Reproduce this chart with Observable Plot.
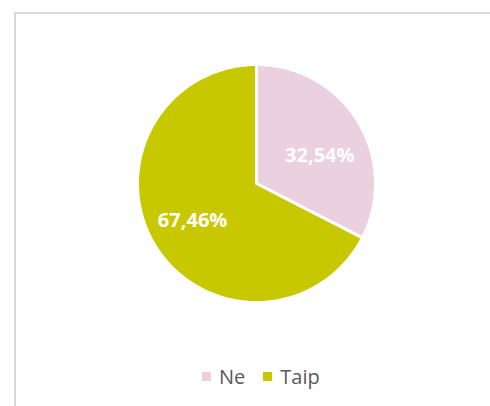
<!DOCTYPE html>
<html>
<head>
<meta charset="utf-8">
<script src="https://cdn.jsdelivr.net/npm/d3@7"></script>
<script src="https://cdn.jsdelivr.net/npm/@observablehq/plot@0.6"></script>
<style>
  body { margin: 0; background: #fff; }
  #wrap { position: relative; width: 490px; height: 406px; overflow: hidden; font-family: "Open Sans", sans-serif; }
  #frame { position: absolute; left: 14px; top: 12px; width: 500px; height: 420px; border-left: 2px solid #d9d9d9; border-top: 2px solid #d9d9d9; }
  #chart { position: absolute; left: 0; top: 0; }
  #legend { position: absolute; left: 202px; top: 363px; display: flex; gap: 18px; font-size: 20px; line-height: 27px; color: #595959; }
  #legend span.item { display: flex; align-items: center; gap: 8px; }
  #legend span.sw { display: inline-block; width: 9px; height: 9px; }
</style>
</head>
<body>
<div id="wrap">
  <div id="frame"></div>
  <div id="chart"></div>
  <div id="legend"></div>
</div>
<script>
const categories = ["Ne", "Taip"];
const values = [32.54, 67.46];
const labels = ["32,54%", "67,46%"];
const colors = ["#ebd0e0", "#c8c800"];

// layout
const cx = 256, cy = 183, R = 119;
const labelDist = [0.6, 0.6];
const labelShift = [[0.02, -0.08], [-0.025, 0.005]];

const pie = d3.pie().sort(null).value(d => d.value);
const data = categories.map((c, i) => ({category: c, value: values[i], label: labels[i]}));
const arcs = pie(data);

// points along each slice boundary in unit coordinates (angle 0 at top, clockwise)
const pts = [];
arcs.forEach(a => {
  const n = 120;
  pts.push({category: a.data.category, x: 0, y: 0});
  for (let k = 0; k <= n; k++) {
    const t = a.startAngle + (a.endAngle - a.startAngle) * k / n;
    pts.push({category: a.data.category, x: Math.sin(t), y: Math.cos(t)});
  }
  pts.push({category: a.data.category, x: 0, y: 0});
});
const labelPts = arcs.map((a, i) => {
  const m = (a.startAngle + a.endAngle) / 2;
  return {label: a.data.label, x: labelDist[i] * Math.sin(m) + labelShift[i][0], y: labelDist[i] * Math.cos(m) + labelShift[i][1]};
});

const plot = Plot.plot({
  width: 490,
  height: 406,
  margin: 0,
  x: {domain: [-1, 1], range: [cx - R, cx + R], axis: null},
  y: {domain: [-1, 1], range: [cy + R, cy - R], axis: null},
  color: {domain: categories, range: colors},
  style: {background: "transparent"},
  marks: [
    Plot.line(pts, {x: "x", y: "y", z: "category", fill: "category", stroke: "white", strokeWidth: 3, strokeLinejoin: "miter", curve: "linear"}),
    Plot.text(labelPts, {x: "x", y: "y", text: "label", fill: "white", fontSize: 20, fontWeight: "bold", fontFamily: "Open Sans"})
  ]
});
document.getElementById("chart").appendChild(plot);

const legend = document.getElementById("legend");
categories.forEach((c, i) => {
  const item = document.createElement("span");
  item.className = "item";
  const sw = document.createElement("span");
  sw.className = "sw";
  sw.style.background = colors[i];
  const t = document.createElement("span");
  t.textContent = c;
  item.appendChild(sw);
  item.appendChild(t);
  legend.appendChild(item);
});
</script>
</body>
</html>
